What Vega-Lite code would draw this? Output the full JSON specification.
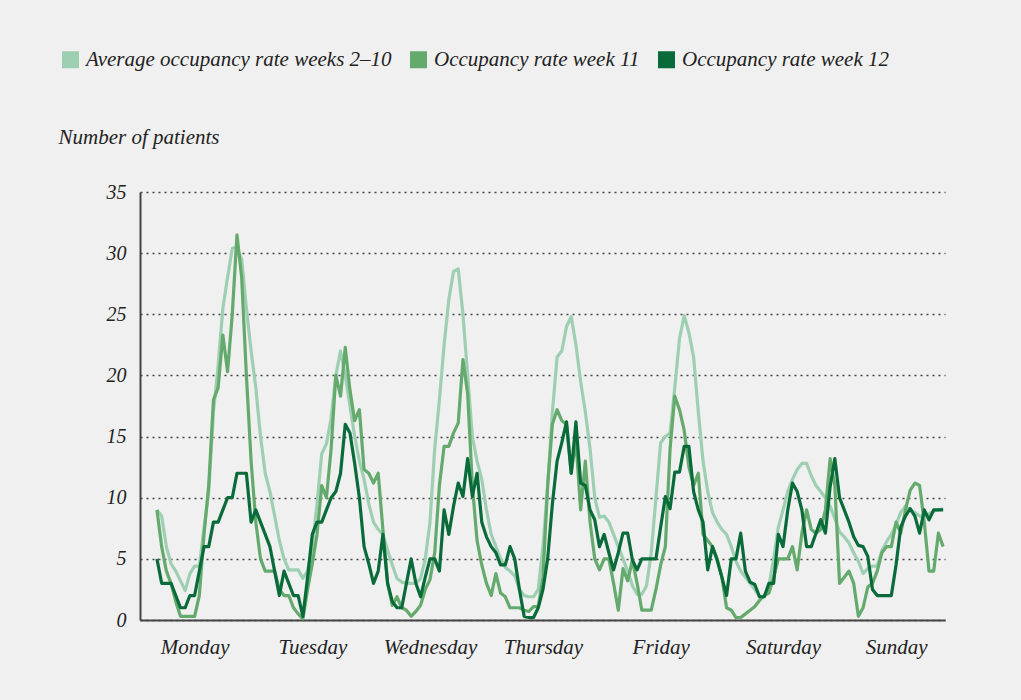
{
  "$schema": "https://vega.github.io/schema/vega-lite/v6.json",
  "width": 805,
  "height": 428,
  "autosize": {"type": "none"},
  "padding": {"left": 140, "top": 192, "right": 76, "bottom": 80},
  "background": "#f0f0f0",
  "config": {"view": {"stroke": null}, "font": "Liberation Serif"},
  "data": {"values": [
{"h":0,"s":"a","v":9},{"h":1,"s":"a","v":8.5},{"h":2,"s":"a","v":6},{"h":3,"s":"a","v":4.6},{"h":4,"s":"a","v":4},{"h":5,"s":"a","v":3.2},{"h":6,"s":"a","v":2.4},{"h":7,"s":"a","v":3.8},{"h":8,"s":"a","v":4.4},{"h":9,"s":"a","v":4.4},
{"h":10,"s":"a","v":7.5},{"h":11,"s":"a","v":10.5},{"h":12,"s":"a","v":17},{"h":13,"s":"a","v":20.8},{"h":14,"s":"a","v":25.5},{"h":15,"s":"a","v":28},{"h":16,"s":"a","v":30.4},{"h":17,"s":"a","v":30.5},{"h":18,"s":"a","v":29.5},{"h":19,"s":"a","v":25.5},
{"h":20,"s":"a","v":22},{"h":21,"s":"a","v":19},{"h":22,"s":"a","v":15},{"h":23,"s":"a","v":12},{"h":24,"s":"a","v":10.5},{"h":25,"s":"a","v":8.5},{"h":26,"s":"a","v":6.5},{"h":27,"s":"a","v":5},{"h":28,"s":"a","v":4.1},{"h":29,"s":"a","v":4.1},
{"h":30,"s":"a","v":4.1},{"h":31,"s":"a","v":3.4},{"h":32,"s":"a","v":4},{"h":33,"s":"a","v":6},{"h":34,"s":"a","v":9.5},{"h":35,"s":"a","v":13.6},{"h":36,"s":"a","v":14.4},{"h":37,"s":"a","v":16.5},{"h":38,"s":"a","v":20},{"h":39,"s":"a","v":22},
{"h":40,"s":"a","v":20},{"h":41,"s":"a","v":17.5},{"h":42,"s":"a","v":15},{"h":43,"s":"a","v":13},{"h":44,"s":"a","v":11.5},{"h":45,"s":"a","v":9.5},{"h":46,"s":"a","v":8},{"h":47,"s":"a","v":7.4},{"h":48,"s":"a","v":7},{"h":49,"s":"a","v":5.7},
{"h":50,"s":"a","v":4.5},{"h":51,"s":"a","v":3.4},{"h":52,"s":"a","v":3.1},{"h":53,"s":"a","v":3},{"h":54,"s":"a","v":3},{"h":55,"s":"a","v":3},{"h":56,"s":"a","v":3.4},{"h":57,"s":"a","v":5},{"h":58,"s":"a","v":8},{"h":59,"s":"a","v":14},
{"h":60,"s":"a","v":18},{"h":61,"s":"a","v":22.5},{"h":62,"s":"a","v":26.2},{"h":63,"s":"a","v":28.5},{"h":64,"s":"a","v":28.7},{"h":65,"s":"a","v":25},{"h":66,"s":"a","v":20},{"h":67,"s":"a","v":15},{"h":68,"s":"a","v":13},{"h":69,"s":"a","v":11.5},
{"h":70,"s":"a","v":9},{"h":71,"s":"a","v":7},{"h":72,"s":"a","v":6},{"h":73,"s":"a","v":5},{"h":74,"s":"a","v":4.3},{"h":75,"s":"a","v":4},{"h":76,"s":"a","v":3.6},{"h":77,"s":"a","v":2.5},{"h":78,"s":"a","v":2},{"h":79,"s":"a","v":1.9},
{"h":80,"s":"a","v":1.9},{"h":81,"s":"a","v":2.5},{"h":82,"s":"a","v":6},{"h":83,"s":"a","v":11},{"h":84,"s":"a","v":17},{"h":85,"s":"a","v":21.5},{"h":86,"s":"a","v":22},{"h":87,"s":"a","v":24},{"h":88,"s":"a","v":24.8},{"h":89,"s":"a","v":22.5},
{"h":90,"s":"a","v":19.5},{"h":91,"s":"a","v":17},{"h":92,"s":"a","v":14},{"h":93,"s":"a","v":10},{"h":94,"s":"a","v":8.4},{"h":95,"s":"a","v":8.5},{"h":96,"s":"a","v":8},{"h":97,"s":"a","v":7},{"h":98,"s":"a","v":6},{"h":99,"s":"a","v":5},
{"h":100,"s":"a","v":4},{"h":101,"s":"a","v":2.8},{"h":102,"s":"a","v":2.1},{"h":103,"s":"a","v":2.1},{"h":104,"s":"a","v":2.8},{"h":105,"s":"a","v":5.5},{"h":106,"s":"a","v":10},{"h":107,"s":"a","v":14.5},{"h":108,"s":"a","v":15},{"h":109,"s":"a","v":15.3},
{"h":110,"s":"a","v":19},{"h":111,"s":"a","v":23},{"h":112,"s":"a","v":24.9},{"h":113,"s":"a","v":23.5},{"h":114,"s":"a","v":21.5},{"h":115,"s":"a","v":17},{"h":116,"s":"a","v":13},{"h":117,"s":"a","v":10.5},{"h":118,"s":"a","v":8.8},{"h":119,"s":"a","v":8},
{"h":120,"s":"a","v":7.4},{"h":121,"s":"a","v":7},{"h":122,"s":"a","v":6},{"h":123,"s":"a","v":4.8},{"h":124,"s":"a","v":4},{"h":125,"s":"a","v":3.5},{"h":126,"s":"a","v":3},{"h":127,"s":"a","v":2.5},{"h":128,"s":"a","v":1.9},{"h":129,"s":"a","v":1.9},
{"h":130,"s":"a","v":2.8},{"h":131,"s":"a","v":5},{"h":132,"s":"a","v":7.6},{"h":133,"s":"a","v":9},{"h":134,"s":"a","v":10.5},{"h":135,"s":"a","v":11.5},{"h":136,"s":"a","v":12.3},{"h":137,"s":"a","v":12.8},{"h":138,"s":"a","v":12.8},{"h":139,"s":"a","v":11.8},
{"h":140,"s":"a","v":11},{"h":141,"s":"a","v":10.5},{"h":142,"s":"a","v":10},{"h":143,"s":"a","v":9.3},{"h":144,"s":"a","v":8.3},{"h":145,"s":"a","v":7.2},{"h":146,"s":"a","v":6.8},{"h":147,"s":"a","v":6.3},{"h":148,"s":"a","v":5.5},{"h":149,"s":"a","v":4.8},
{"h":150,"s":"a","v":3.8},{"h":151,"s":"a","v":4.2},{"h":152,"s":"a","v":4.4},{"h":153,"s":"a","v":4.4},{"h":154,"s":"a","v":5.7},{"h":155,"s":"a","v":6.4},{"h":156,"s":"a","v":7},{"h":157,"s":"a","v":7.8},{"h":158,"s":"a","v":8.8},{"h":159,"s":"a","v":9.3},
{"h":160,"s":"a","v":9},{"h":161,"s":"a","v":8.8},{"h":162,"s":"a","v":8.5},{"h":163,"s":"a","v":8.5},{"h":164,"s":"a","v":8.7},{"h":165,"s":"a","v":8.9},{"h":166,"s":"a","v":9},{"h":167,"s":"a","v":9.1},
{"h":0,"s":"b","v":9},{"h":1,"s":"b","v":6},{"h":2,"s":"b","v":4},{"h":3,"s":"b","v":3},{"h":4,"s":"b","v":1.5},{"h":5,"s":"b","v":0.3},{"h":6,"s":"b","v":0.3},{"h":7,"s":"b","v":0.3},{"h":8,"s":"b","v":0.3},{"h":9,"s":"b","v":2},
{"h":10,"s":"b","v":7},{"h":11,"s":"b","v":11},{"h":12,"s":"b","v":18},{"h":13,"s":"b","v":19},{"h":14,"s":"b","v":23.3},{"h":15,"s":"b","v":20.3},{"h":16,"s":"b","v":25},{"h":17,"s":"b","v":31.5},{"h":18,"s":"b","v":28},{"h":19,"s":"b","v":20},
{"h":20,"s":"b","v":13},{"h":21,"s":"b","v":8},{"h":22,"s":"b","v":5},{"h":23,"s":"b","v":4},{"h":24,"s":"b","v":4},{"h":25,"s":"b","v":4},{"h":26,"s":"b","v":2.5},{"h":27,"s":"b","v":2},{"h":28,"s":"b","v":2},{"h":29,"s":"b","v":1},
{"h":30,"s":"b","v":0.5},{"h":31,"s":"b","v":0.1},{"h":32,"s":"b","v":2.5},{"h":33,"s":"b","v":4.6},{"h":34,"s":"b","v":7},{"h":35,"s":"b","v":11},{"h":36,"s":"b","v":10},{"h":37,"s":"b","v":14},{"h":38,"s":"b","v":20},{"h":39,"s":"b","v":18.3},
{"h":40,"s":"b","v":22.3},{"h":41,"s":"b","v":18.8},{"h":42,"s":"b","v":16.3},{"h":43,"s":"b","v":17.2},{"h":44,"s":"b","v":12.3},{"h":45,"s":"b","v":12},{"h":46,"s":"b","v":11.2},{"h":47,"s":"b","v":12},{"h":48,"s":"b","v":7.4},{"h":49,"s":"b","v":3},
{"h":50,"s":"b","v":1.2},{"h":51,"s":"b","v":1.9},{"h":52,"s":"b","v":1},{"h":53,"s":"b","v":0.8},{"h":54,"s":"b","v":0.3},{"h":55,"s":"b","v":0.7},{"h":56,"s":"b","v":1.2},{"h":57,"s":"b","v":2.5},{"h":58,"s":"b","v":3.3},{"h":59,"s":"b","v":5.5},
{"h":60,"s":"b","v":11},{"h":61,"s":"b","v":14.2},{"h":62,"s":"b","v":14.2},{"h":63,"s":"b","v":15.3},{"h":64,"s":"b","v":16.1},{"h":65,"s":"b","v":21.3},{"h":66,"s":"b","v":18.5},{"h":67,"s":"b","v":11},{"h":68,"s":"b","v":6.5},{"h":69,"s":"b","v":4.5},
{"h":70,"s":"b","v":3},{"h":71,"s":"b","v":2},{"h":72,"s":"b","v":3.8},{"h":73,"s":"b","v":2.2},{"h":74,"s":"b","v":1.9},{"h":75,"s":"b","v":1},{"h":76,"s":"b","v":1},{"h":77,"s":"b","v":1},{"h":78,"s":"b","v":0.8},{"h":79,"s":"b","v":0.7},
{"h":80,"s":"b","v":1.1},{"h":81,"s":"b","v":1.1},{"h":82,"s":"b","v":3.5},{"h":83,"s":"b","v":11},{"h":84,"s":"b","v":16},{"h":85,"s":"b","v":17.2},{"h":86,"s":"b","v":16.3},{"h":87,"s":"b","v":16},{"h":88,"s":"b","v":12},{"h":89,"s":"b","v":14.7},
{"h":90,"s":"b","v":9},{"h":91,"s":"b","v":13},{"h":92,"s":"b","v":8},{"h":93,"s":"b","v":5},{"h":94,"s":"b","v":4.1},{"h":95,"s":"b","v":5},{"h":96,"s":"b","v":5},{"h":97,"s":"b","v":3},{"h":98,"s":"b","v":0.8},{"h":99,"s":"b","v":4.2},
{"h":100,"s":"b","v":3.2},{"h":101,"s":"b","v":4.9},{"h":102,"s":"b","v":3},{"h":103,"s":"b","v":0.8},{"h":104,"s":"b","v":0.8},{"h":105,"s":"b","v":0.8},{"h":106,"s":"b","v":2.5},{"h":107,"s":"b","v":4.5},{"h":108,"s":"b","v":6},{"h":109,"s":"b","v":14},
{"h":110,"s":"b","v":18.3},{"h":111,"s":"b","v":17.2},{"h":112,"s":"b","v":15.5},{"h":113,"s":"b","v":12.5},{"h":114,"s":"b","v":11},{"h":115,"s":"b","v":12},{"h":116,"s":"b","v":7},{"h":117,"s":"b","v":6.5},{"h":118,"s":"b","v":6},{"h":119,"s":"b","v":5},
{"h":120,"s":"b","v":3.5},{"h":121,"s":"b","v":1},{"h":122,"s":"b","v":0.8},{"h":123,"s":"b","v":0.2},{"h":124,"s":"b","v":0.2},{"h":125,"s":"b","v":0.5},{"h":126,"s":"b","v":0.8},{"h":127,"s":"b","v":1.1},{"h":128,"s":"b","v":1.6},{"h":129,"s":"b","v":2},
{"h":130,"s":"b","v":2.2},{"h":131,"s":"b","v":3.5},{"h":132,"s":"b","v":5},{"h":133,"s":"b","v":5},{"h":134,"s":"b","v":5},{"h":135,"s":"b","v":6},{"h":136,"s":"b","v":4.1},{"h":137,"s":"b","v":7.1},{"h":138,"s":"b","v":9},{"h":139,"s":"b","v":7.4},
{"h":140,"s":"b","v":7.1},{"h":141,"s":"b","v":7.4},{"h":142,"s":"b","v":9},{"h":143,"s":"b","v":13.2},{"h":144,"s":"b","v":11},{"h":145,"s":"b","v":3},{"h":146,"s":"b","v":3.5},{"h":147,"s":"b","v":4},{"h":148,"s":"b","v":3},{"h":149,"s":"b","v":0.3},
{"h":150,"s":"b","v":1},{"h":151,"s":"b","v":2.7},{"h":152,"s":"b","v":3},{"h":153,"s":"b","v":4},{"h":154,"s":"b","v":5.5},{"h":155,"s":"b","v":6},{"h":156,"s":"b","v":6},{"h":157,"s":"b","v":8},{"h":158,"s":"b","v":7.1},{"h":159,"s":"b","v":9},
{"h":160,"s":"b","v":10.6},{"h":161,"s":"b","v":11.2},{"h":162,"s":"b","v":11},{"h":163,"s":"b","v":8},{"h":164,"s":"b","v":4},{"h":165,"s":"b","v":4},{"h":166,"s":"b","v":7.1},{"h":167,"s":"b","v":6},
{"h":0,"s":"c","v":5},{"h":1,"s":"c","v":3},{"h":2,"s":"c","v":3},{"h":3,"s":"c","v":3},{"h":4,"s":"c","v":2},{"h":5,"s":"c","v":1},{"h":6,"s":"c","v":1},{"h":7,"s":"c","v":2},{"h":8,"s":"c","v":2},{"h":9,"s":"c","v":4},
{"h":10,"s":"c","v":6},{"h":11,"s":"c","v":6},{"h":12,"s":"c","v":8},{"h":13,"s":"c","v":8},{"h":14,"s":"c","v":9},{"h":15,"s":"c","v":10},{"h":16,"s":"c","v":10},{"h":17,"s":"c","v":12},{"h":18,"s":"c","v":12},{"h":19,"s":"c","v":12},
{"h":20,"s":"c","v":8},{"h":21,"s":"c","v":9},{"h":22,"s":"c","v":8},{"h":23,"s":"c","v":7},{"h":24,"s":"c","v":6},{"h":25,"s":"c","v":4},{"h":26,"s":"c","v":2},{"h":27,"s":"c","v":4},{"h":28,"s":"c","v":3},{"h":29,"s":"c","v":2},
{"h":30,"s":"c","v":2},{"h":31,"s":"c","v":0.3},{"h":32,"s":"c","v":3.5},{"h":33,"s":"c","v":7},{"h":34,"s":"c","v":8},{"h":35,"s":"c","v":8},{"h":36,"s":"c","v":9},{"h":37,"s":"c","v":10},{"h":38,"s":"c","v":10.5},{"h":39,"s":"c","v":12},
{"h":40,"s":"c","v":16},{"h":41,"s":"c","v":15.3},{"h":42,"s":"c","v":12.8},{"h":43,"s":"c","v":10},{"h":44,"s":"c","v":6},{"h":45,"s":"c","v":4.6},{"h":46,"s":"c","v":3},{"h":47,"s":"c","v":4},{"h":48,"s":"c","v":7},{"h":49,"s":"c","v":3},
{"h":50,"s":"c","v":1.5},{"h":51,"s":"c","v":1},{"h":52,"s":"c","v":1},{"h":53,"s":"c","v":3},{"h":54,"s":"c","v":5},{"h":55,"s":"c","v":3},{"h":56,"s":"c","v":1.9},{"h":57,"s":"c","v":3.5},{"h":58,"s":"c","v":5},{"h":59,"s":"c","v":5},
{"h":60,"s":"c","v":4},{"h":61,"s":"c","v":9},{"h":62,"s":"c","v":7},{"h":63,"s":"c","v":9.3},{"h":64,"s":"c","v":11.2},{"h":65,"s":"c","v":10.1},{"h":66,"s":"c","v":13.2},{"h":67,"s":"c","v":10.1},{"h":68,"s":"c","v":12},{"h":69,"s":"c","v":8},
{"h":70,"s":"c","v":6.8},{"h":71,"s":"c","v":6},{"h":72,"s":"c","v":5.5},{"h":73,"s":"c","v":4.5},{"h":74,"s":"c","v":4.5},{"h":75,"s":"c","v":6},{"h":76,"s":"c","v":5},{"h":77,"s":"c","v":2.5},{"h":78,"s":"c","v":0.3},{"h":79,"s":"c","v":0.2},
{"h":80,"s":"c","v":0.2},{"h":81,"s":"c","v":1},{"h":82,"s":"c","v":2.5},{"h":83,"s":"c","v":5},{"h":84,"s":"c","v":9.5},{"h":85,"s":"c","v":13},{"h":86,"s":"c","v":14.5},{"h":87,"s":"c","v":16.2},{"h":88,"s":"c","v":12},{"h":89,"s":"c","v":16.2},
{"h":90,"s":"c","v":11.2},{"h":91,"s":"c","v":11},{"h":92,"s":"c","v":9},{"h":93,"s":"c","v":8.2},{"h":94,"s":"c","v":6},{"h":95,"s":"c","v":7},{"h":96,"s":"c","v":5.5},{"h":97,"s":"c","v":4.1},{"h":98,"s":"c","v":5.5},{"h":99,"s":"c","v":7.1},
{"h":100,"s":"c","v":7.1},{"h":101,"s":"c","v":4.9},{"h":102,"s":"c","v":4.1},{"h":103,"s":"c","v":5},{"h":104,"s":"c","v":5},{"h":105,"s":"c","v":5},{"h":106,"s":"c","v":5},{"h":107,"s":"c","v":7.6},{"h":108,"s":"c","v":10.1},{"h":109,"s":"c","v":9.1},
{"h":110,"s":"c","v":12.1},{"h":111,"s":"c","v":12.1},{"h":112,"s":"c","v":14.2},{"h":113,"s":"c","v":14.2},{"h":114,"s":"c","v":10.5},{"h":115,"s":"c","v":9},{"h":116,"s":"c","v":8},{"h":117,"s":"c","v":4.1},{"h":118,"s":"c","v":6},{"h":119,"s":"c","v":4.9},
{"h":120,"s":"c","v":3.5},{"h":121,"s":"c","v":2},{"h":122,"s":"c","v":5},{"h":123,"s":"c","v":5},{"h":124,"s":"c","v":7.1},{"h":125,"s":"c","v":4},{"h":126,"s":"c","v":3.1},{"h":127,"s":"c","v":2.9},{"h":128,"s":"c","v":1.9},{"h":129,"s":"c","v":1.9},
{"h":130,"s":"c","v":3},{"h":131,"s":"c","v":3},{"h":132,"s":"c","v":7},{"h":133,"s":"c","v":6},{"h":134,"s":"c","v":9},{"h":135,"s":"c","v":11.2},{"h":136,"s":"c","v":10.5},{"h":137,"s":"c","v":9},{"h":138,"s":"c","v":6},{"h":139,"s":"c","v":6},
{"h":140,"s":"c","v":7.1},{"h":141,"s":"c","v":8.2},{"h":142,"s":"c","v":7.1},{"h":143,"s":"c","v":10.9},{"h":144,"s":"c","v":13.2},{"h":145,"s":"c","v":10},{"h":146,"s":"c","v":9},{"h":147,"s":"c","v":8},{"h":148,"s":"c","v":6.8},{"h":149,"s":"c","v":6.1},
{"h":150,"s":"c","v":6},{"h":151,"s":"c","v":5.2},{"h":152,"s":"c","v":2.5},{"h":153,"s":"c","v":2},{"h":154,"s":"c","v":2},{"h":155,"s":"c","v":2},{"h":156,"s":"c","v":2},{"h":157,"s":"c","v":4.5},{"h":158,"s":"c","v":7.6},{"h":159,"s":"c","v":8.5},
{"h":160,"s":"c","v":9.1},{"h":161,"s":"c","v":8.5},{"h":162,"s":"c","v":7.1},{"h":163,"s":"c","v":9},{"h":164,"s":"c","v":8.2},{"h":165,"s":"c","v":9},{"h":166,"s":"c","v":9},{"h":167,"s":"c","v":9}
  ]},
  "mark": {"type": "line", "strokeWidth": 3.2, "strokeJoin": "round"},
  "encoding": {
    "x": {
      "field": "h", "type": "quantitative",
      "scale": {"domain": [-3.6, 167.4], "nice": false, "zero": false},
      "axis": {
        "values": [8, 33, 58, 82, 107, 133, 157],
        "labelExpr": "datum.value == 8 ? 'Monday' : datum.value == 33 ? 'Tuesday' : datum.value == 58 ? 'Wednesday' : datum.value == 82 ? 'Thursday' : datum.value == 107 ? 'Friday' : datum.value == 133 ? 'Saturday' : 'Sunday'",
        "ticks": false, "tickSize": 0, "grid": false,
        "domainColor": "#444444", "domainWidth": 2,
        "labelFont": "Liberation Serif", "labelFontStyle": "italic", "labelFontSize": 21,
        "labelColor": "#222222", "labelPadding": 16, "title": null
      }
    },
    "y": {
      "field": "v", "type": "quantitative",
      "scale": {"domain": [0, 35], "nice": false},
      "axis": {
        "values": [0, 5, 10, 15, 20, 25, 30, 35],
        "ticks": false, "tickSize": 0, "grid": true,
        "gridDash": [2, 4], "gridColor": "#444444", "gridWidth": 1.3,
        "domainColor": "#444444", "domainWidth": 2,
        "labelFont": "Liberation Serif", "labelFontStyle": "italic", "labelFontSize": 20,
        "labelColor": "#222222", "labelPadding": 14,
        "title": "Number of patients", "titleAngle": 0, "titleAlign": "left",
        "titleBaseline": "alphabetic", "titleX": -82, "titleY": -49,
        "titleFont": "Liberation Serif", "titleFontStyle": "italic", "titleFontWeight": "normal",
        "titleFontSize": 21, "titleColor": "#222222"
      }
    },
    "color": {
      "field": "s", "type": "nominal",
      "scale": {"domain": ["a", "b", "c"], "range": ["#9ecfb2", "#63aa6c", "#0a6b3a"]},
      "legend": {
        "orient": "none", "legendX": -80, "legendY": -143, "direction": "horizontal",
        "title": null, "symbolType": "square", "symbolSize": 64, "symbolStrokeWidth": 9,
        "labelFont": "Liberation Serif", "labelFontStyle": "italic", "labelFontSize": 21,
        "labelColor": "#222222", "labelOffset": 5, "columnPadding": 4, "labelLimit": 500,
        "labelExpr": "datum.value == 'a' ? 'Average occupancy rate weeks 2–10' : datum.value == 'b' ? 'Occupancy rate week 11' : 'Occupancy rate week 12'"
      }
    }
  }
}
